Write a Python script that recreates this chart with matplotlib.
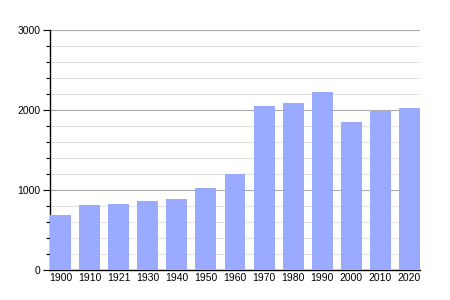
import matplotlib
matplotlib.use("Agg")
import matplotlib.pyplot as plt
from matplotlib.ticker import MultipleLocator

years = ["1900", "1910", "1921", "1930", "1940", "1950", "1960",
         "1970", "1980", "1990", "2000", "2010", "2020"]
population = [687, 812, 829, 862, 887, 1025, 1196,
              2050, 2087, 2221, 1850, 1992, 2025]

fig = plt.figure(figsize=(4.5, 3), dpi=100)
ax = fig.add_axes([50/450, 30/300, 370/450, 240/300])

w = 0.72
x = list(range(len(years)))
ax.bar(x, population, width=w, color="#99aaff", zorder=3)
ax.set_xlim(-w/2, len(years) - 1 + w/2)
ax.set_ylim(0, 3000)

ax.yaxis.set_major_locator(MultipleLocator(1000))
ax.yaxis.set_minor_locator(MultipleLocator(200))
ax.grid(which="major", axis="y", color="#aaaaaa", linewidth=0.8, zorder=1)
ax.grid(which="minor", axis="y", color="#e2e2e2", linewidth=0.8, zorder=0)

ax.set_xticks(x)
ax.set_xticklabels(years, fontsize=7.5, fontfamily="Liberation Sans")
for lab in ax.get_yticklabels():
    lab.set_fontsize(7.5)
    lab.set_fontfamily("Liberation Sans")
ax.tick_params(axis="x", length=0, pad=2.5)
ax.tick_params(axis="y", which="major", length=5, width=0.8, pad=2, labelsize=7.5)
ax.tick_params(axis="y", which="minor", length=3, width=0.8)

for s in ["top", "right"]:
    ax.spines[s].set_visible(False)
ax.spines["left"].set_linewidth(1)
ax.spines["bottom"].set_linewidth(1)

fig.savefig("out.png", dpi=100)
